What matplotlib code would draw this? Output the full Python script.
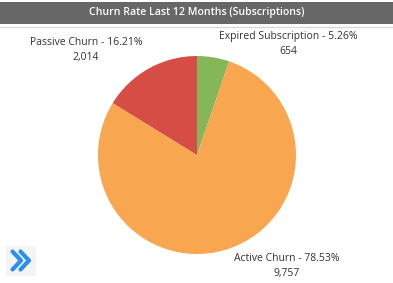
import matplotlib
matplotlib.use("Agg")
import matplotlib.pyplot as plt
from matplotlib.patches import Rectangle

labels = ["Expired Subscription", "Active Churn", "Passive Churn"]
counts = [654, 9757, 2014]
colors = ["#86b65a", "#f8a64f", "#d64d45"]

total = sum(counts)
pcts = [c / total * 100 for c in counts]

fig = plt.figure(figsize=(3.93, 2.83), dpi=100)
fig.patch.set_facecolor("white")

# title bar
fig.patches.append(Rectangle((0, 1 - 24 / 283), 1, 22 / 283, transform=fig.transFigure,
                             facecolor="#676767", edgecolor="none"))
fig.lines.append(plt.Line2D([0, 1], [1 - 26.5 / 283] * 2, transform=fig.transFigure,
                            color="#d9d9d9", lw=1))
fig.text(0.5, 1 - 13 / 283, "Churn Rate Last 12 Months (Subscriptions)", ha="center", va="center",
         color="white", fontsize=7.6, fontweight="semibold", family="Open Sans")

# pie
r = 99
cx, cy = 197, 155
ax = fig.add_axes([(cx - r) / 393, 1 - (cy + r) / 283, 2 * r / 393, 2 * r / 283])
ax.pie(counts, colors=colors, startangle=90, counterclock=False, radius=1,
       wedgeprops=dict(linewidth=0))
ax.set_xlim(-1, 1)
ax.set_ylim(-1, 1)
ax.set_aspect("auto")
ax.axis("off")

def label(x, y, i):
    fig.text(x / 393, 1 - y / 283, f"{labels[i]} - {pcts[i]:.2f}%\n{counts[i]:,}",
             ha="center", va="center", fontsize=7.5, color="#333333", family="Open Sans",
             linespacing=1.55)

label(86, 50, 2)
label(288, 44, 0)
label(287, 266, 1)

# navigation icon
fig.patches.append(Rectangle((6 / 393, 1 - 276 / 283), 30 / 393, 30 / 283, transform=fig.transFigure,
                             facecolor="#f4f4f4", edgecolor="none"))
for dx in (0, 8):
    fig.lines.append(plt.Line2D([(12.5 + dx) / 393, (21 + dx) / 393, (12.5 + dx) / 393],
                                [1 - 251.5 / 283, 1 - 260.5 / 283, 1 - 269.5 / 283],
                                transform=fig.transFigure, color="#2b8ff0", lw=3,
                                solid_capstyle="round", solid_joinstyle="round"))

fig.savefig("out.png", dpi=100)
